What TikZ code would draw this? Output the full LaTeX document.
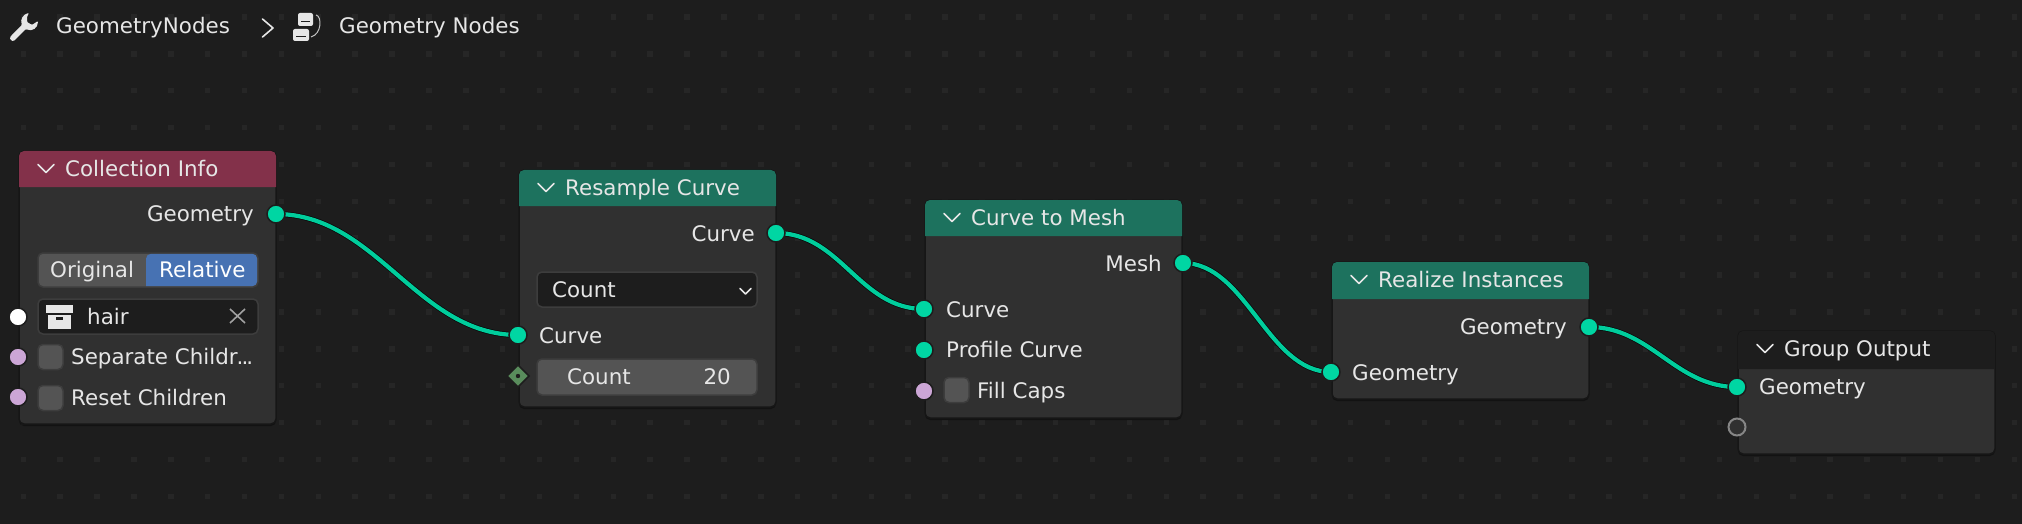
\documentclass[tikz,border=0pt]{standalone}
\usepackage{fontspec}
\setmainfont{DejaVu Sans}
\usetikzlibrary{shapes.geometric, positioning, shadows, calc}

\definecolor{canvasbg}{HTML}{1D1D1D}
\definecolor{griddot}{HTML}{262626}
\definecolor{panelbg}{HTML}{303030}
\definecolor{panelline}{HTML}{161616}
\definecolor{inputhd}{HTML}{83314A}
\definecolor{geomhd}{HTML}{1D725E}
\definecolor{outputhd}{HTML}{1D1D1D}
\definecolor{geomsock}{HTML}{00D6A3}
\definecolor{boolsock}{HTML}{CCA6D6}
\definecolor{intsock}{HTML}{598C5C}
\definecolor{widget}{HTML}{545454}
\definecolor{widgetline}{HTML}{3D3D3D}
\definecolor{activebtn}{HTML}{4772B3}
\definecolor{labeltxt}{HTML}{E6E6E6}

\newcommand{\uifont}{\fontsize{21.4}{25}\selectfont}

% header strip, collapse chevron and title of a panel
\newcommand{\panelhead}[4]{
    \fill[#2] ($(#1.north west)+(0,#3)$) [rounded corners=5pt] -- (#1.north west) -- (#1.north east)
        [sharp corners] -- ($(#1.north east)+(0,#3)$) -- cycle;
    \draw[chev] ($(#1.north west)+(19,13.5)$) -- ++(8,8) -- ++(8,-8);
    \node[lbl] (#1title) at ($(#1.north west)+(46,25)$) {#4};
}

\begin{document}
\begin{tikzpicture}[
        x = 1pt,
        y = -1pt,
        every node/.style = {font=\uifont, text=labeltxt},
        panel/.style = {
            draw = panelline,
            line width = 1.5pt,
            fill = panelbg,
            rectangle,
            rounded corners = 5pt,
            minimum width = 257pt,
            anchor = north west,
            outer sep = 0pt,
            inner sep = 0pt,
            drop shadow = {shadow xshift=0pt, shadow yshift=-2pt, opacity=0.35, fill=black}
        },
        sock/.style = {
            circle,
            draw = canvasbg,
            line width = 1.5pt,
            minimum size = 18pt,
            inner sep = 0pt,
            outer sep = 0pt
        },
        geo/.style = {sock, fill=geomsock},
        bool/.style = {sock, fill=boolsock},
        lbl/.style = {anchor=base west, inner sep=0pt},
        lblr/.style = {anchor=base east, inner sep=0pt},
        widgetbox/.style = {
            rectangle,
            draw = widgetline,
            line width = 1.5pt,
            fill = widget,
            rounded corners = 5pt,
            anchor = north west,
            inner sep = 0pt,
            outer sep = 0pt
        },
        check/.style = {widgetbox, minimum size = 25pt},
        chev/.style = {draw=labeltxt, line width=1.6pt, line cap=round, line join=round},
        link/.style = {
            draw = geomsock!96!black,
            line width = 4.2pt,
            preaction = {draw=black!75!canvasbg, line width=5.6pt}
        }
    ]

    \useasboundingbox (0,0) rectangle (2022,524);
    \fill[canvasbg] (0,0) rectangle (2022,524);

    \foreach \i in {0,...,54}
        \foreach \j in {0,...,13}
            \fill[griddot] ({20.6+36.87*\i},{14.2+36.87*\j}) rectangle +(5.5,5.5);

    % breadcrumb
    \fill[labeltxt, rounded corners=1pt] (29,13) .. controls (23,14) and (20,20) .. (22,25) -- (11,36)
        .. controls (9,39) and (12,42) .. (15,40) -- (26,29) .. controls (32,32) and (38,28) .. (38,21)
        -- (32,25) -- (27,22) -- (27,17) -- cycle;
    \node[lbl] (crumbmod) at (56,34) {GeometryNodes};
    \draw[chev] (262.5,19) -- (273,28) -- (262.5,37);
    \fill[labeltxt, rounded corners=2pt] (298,13) rectangle (313,26);
    \fill[labeltxt, rounded corners=2pt] (293,29) rectangle (309,41);
    \draw[canvasbg, line width=1.4pt] (301,21.5) -- (310,21.5);
    \draw[canvasbg, line width=1.4pt] (296,36.5) -- (306,36.5);
    \draw[labeltxt!85!black, line width=1pt] (316,15) .. controls (322,16) and (322,34) .. (311,37);
    \node[lbl] (crumbtree) at (339,34) {Geometry Nodes};

    % panels
    \node[panel, minimum height=273pt] (info) at (19,151) {};
    \node[panel, minimum height=237pt] (resample) at ($(info.north east)+(243,19)$) {};
    \node[panel, minimum height=218pt] (tomesh) at ($(resample.north east)+(149,30)$) {};
    \node[panel, minimum height=137pt] (realize) at ($(tomesh.north east)+(150,62)$) {};
    \node[panel, minimum height=123pt] (groupout) at ($(realize.north east)+(149,69)$) {};

    \panelhead{info}{inputhd}{36}{Collection Info}
    \panelhead{resample}{geomhd}{36}{Resample Curve}
    \panelhead{tomesh}{geomhd}{36}{Curve to Mesh}
    \panelhead{realize}{geomhd}{37}{Realize Instances}
    \panelhead{groupout}{outputhd}{38}{Group Output}

    % Collection Info
    \node[lblr] (infogeo) at (254,222) {Geometry};
    \node[widgetbox, minimum width=220pt, minimum height=34pt] (modebox) at (38,253) {};
    \fill[activebtn, rounded corners=5pt] (146,253.8) [sharp corners] -- (146,286.2) [rounded corners=5pt] -- (257.2,286.2) -- (257.2,253.8) -- cycle;
    \node[lbl] (modeorig) at (50,277) {Original};
    \node[lbl, text=white] (moderel) at (159,277) {Relative};
    \node[widgetbox, fill=canvasbg, minimum width=220pt, minimum height=35pt] (hairbox) at (38,299) {};
    \fill[labeltxt] (46,305) rectangle (73,313);
    \fill[labeltxt] (48,314.5) rectangle (71,329);
    \fill[canvasbg] (56,317) rectangle (63,320);
    \node[lbl] (hairname) at (87,324) {hair};
    \draw[labeltxt!70!black, line width=1.6pt] (230,309) -- (245,323) (245,309) -- (230,323);
    \node[check] (sepcheck) at (38,344.5) {};
    \node[lbl] (seplbl) at (71,364) {Separate Childr\kern-1pt.\kern-2pt.\kern-2pt.};
    \node[check] (resetcheck) at (38,385.5) {};
    \node[lbl] (resetlbl) at (71,405) {Reset Children};

    % Resample Curve
    \node[lblr] (rescurveout) at (755,241) {Curve};
    \node[widgetbox, fill=canvasbg, minimum width=220pt, minimum height=35pt] (modedrop) at (537,272) {};
    \node[lbl] (modecount) at (552,297) {Count};
    \draw[chev] (740,288.5) -- (745.5,294) -- (751,288.5);
    \node[lbl] (rescurvein) at (539,343) {Curve};
    \node[widgetbox, minimum width=220pt, minimum height=36pt] (countbox) at (537,359) {};
    \node[lbl] (countlbl) at (567,384) {Count};
    \node[lblr] (countval) at (731,384) {20};

    % Curve to Mesh
    \node[lblr] (meshout) at (1162,271) {Mesh};
    \node[lbl] (meshcurve) at (946,317) {Curve};
    \node[lbl] (meshprofile) at (946,357) {Profile Curve};
    \node[check] (capcheck) at (944,377.5) {};
    \node[lbl] (caplbl) at (977,398) {Fill Caps};

    % Realize Instances
    \node[lblr] (realout) at (1567,334) {Geometry};
    \node[lbl] (realin) at (1352,380) {Geometry};

    % Group Output
    \node[lbl] (grpin) at (1759,394) {Geometry};

    % links
    \draw[link] (276,214) coordinate (linfo) to[out=0, in=180, looseness=0.95] (518,335) coordinate (lresin);
    \draw[link] (776,233) coordinate (lresout) to[out=0, in=180] (924,309) coordinate (lmeshin);
    \draw[link] (1183,263) coordinate (lmeshout) to[out=0, in=180, looseness=0.88] (1331,372) coordinate (lrealin);
    \draw[link] (1589,327) coordinate (lrealout) to[out=0, in=180] (1737,387) coordinate (lgrpin);

    % sockets
    \node[geo] (sinfo) at (linfo) {};
    \node[sock, fill=white] (scoll) at (18,317) {};
    \node[bool] (ssep) at (18,357) {};
    \node[bool] (sreset) at (18,397) {};

    \node[geo] (sresout) at (lresout) {};
    \node[geo] (sresin) at (lresin) {};
    \node[sock, diamond, fill=intsock, minimum size=22pt] (scount) at (518,376) {};
    \fill[canvasbg] (scount.center) circle (2.2);

    \node[geo] (smeshout) at (lmeshout) {};
    \node[geo] (smeshin) at (lmeshin) {};
    \node[geo] (sprofile) at (924,350) {};
    \node[bool] (scaps) at (924,391) {};

    \node[geo] (srealout) at (lrealout) {};
    \node[geo] (srealin) at (lrealin) {};

    \node[geo] (sgrpin) at (lgrpin) {};
    \node[sock, draw=gray!95, line width=2pt, fill=panelbg, minimum size=17pt] (sgrpnew) at (1737,427) {};

\end{tikzpicture}
\end{document}
